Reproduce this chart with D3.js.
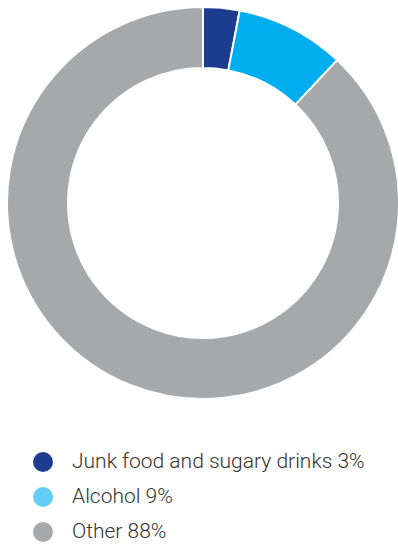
<!DOCTYPE html>
<html>
<head>
<meta charset="utf-8">
<script src="https://cdn.jsdelivr.net/npm/d3@7"></script>
<style>
  html, body { margin: 0; padding: 0; background: #fff; }
  #chart { width: 398px; height: 544px; }
</style>
</head>
<body>
<div id="chart"></div>
<script>
// Dados
const categories = ['Junk food and sugary drinks', 'Alcohol', 'Other'];
const values = [3, 9, 88];
const sliceColors = ['#1d3b8f', '#00aeef', '#a7a8ab'];
const legendColors = ['#1d3b8f', '#63cdf6', '#a7a8ab'];

const data = categories.map((c, i) => ({ name: c, value: values[i] }));

const width = 398, height = 544;
const cx = 203, cy = 203;
const outerR = 196, innerR = 135;

const svg = d3.select('#chart')
  .append('svg')
  .attr('width', width)
  .attr('height', height);

// Donut
const pie = d3.pie().sort(null).value(d => d.value);
const arc = d3.arc().innerRadius(innerR).outerRadius(outerR);

const g = svg.append('g')
  .attr('transform', `translate(${cx},${cy})`);

g.selectAll('path')
  .data(pie(data))
  .enter()
  .append('path')
  .attr('d', arc)
  .attr('fill', (d, i) => sliceColors[i])
  .attr('stroke', '#fff')
  .attr('stroke-width', 2);

// Legenda
const legend = svg.append('g');
const y = d3.scalePoint()
  .domain(categories)
  .range([462, 532]);

const items = legend.selectAll('.item')
  .data(data)
  .enter()
  .append('g')
  .attr('class', 'item')
  .attr('transform', d => `translate(0,${y(d.name)})`);

items.append('circle')
  .attr('cx', 43)
  .attr('cy', 0)
  .attr('r', 10)
  .attr('fill', (d, i) => legendColors[i]);

items.append('text')
  .attr('x', 72)
  .attr('y', 6)
  .style('font-family', 'Roboto, sans-serif')
  .style('font-weight', 300)
  .style('font-size', '21px')
  .style('fill', '#333')
  .text(d => `${d.name} ${d.value}%`);
</script>
</body>
</html>
